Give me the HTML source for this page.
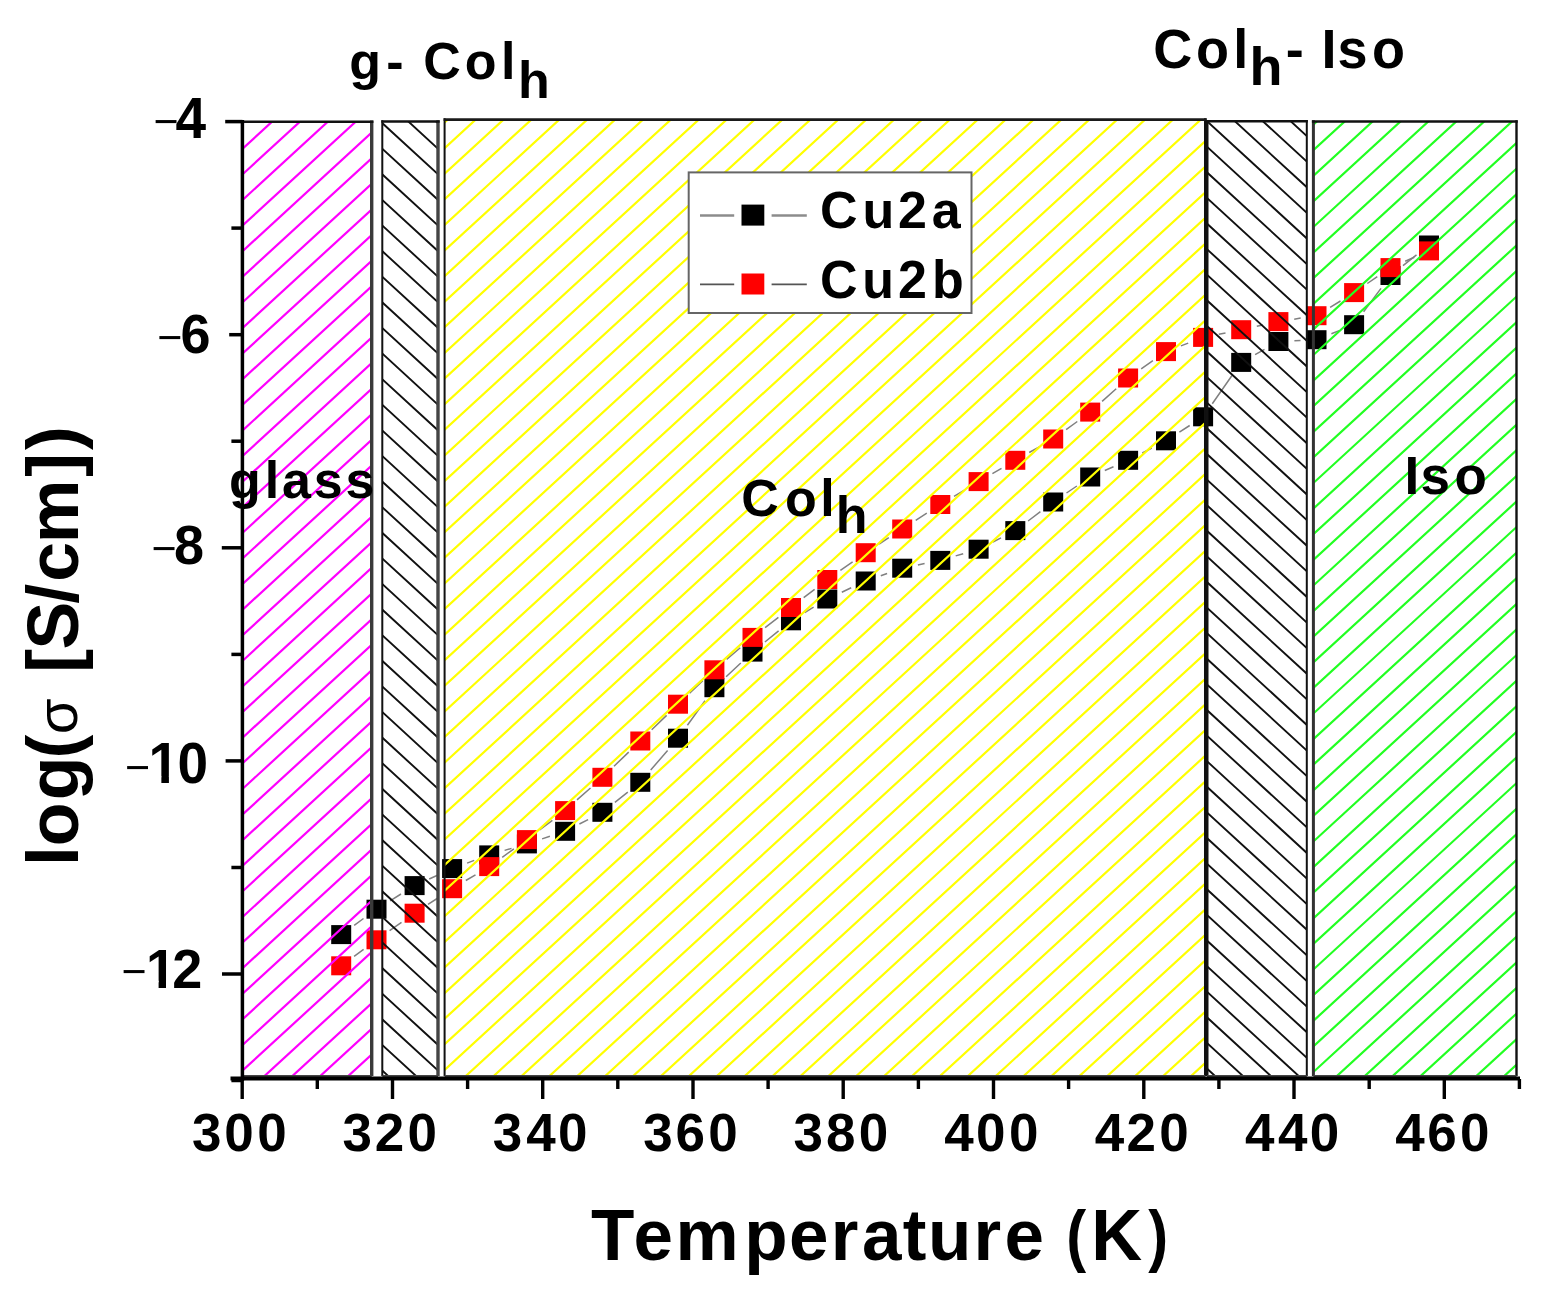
<!DOCTYPE html><html><head><meta charset="utf-8"><style>html,body{margin:0;padding:0;background:#fff;}svg{display:block}text{font-family:"Liberation Sans",Arial,sans-serif;fill:#000}</style></head><body>
<svg width="1544" height="1297" viewBox="0 0 1544 1297">
<defs>
<clipPath id="c0"><rect x="242.4" y="121.8" width="129.3" height="954.2"/></clipPath>
<clipPath id="c1"><rect x="382.3" y="121.5" width="55.7" height="954.5"/></clipPath>
<clipPath id="c2"><rect x="444.6" y="119.7" width="760.7" height="956.3"/></clipPath>
<clipPath id="c3"><rect x="1207.0" y="121.3" width="99.8" height="954.7"/></clipPath>
<clipPath id="c4"><rect x="1313.4" y="121.5" width="203.1" height="954.5"/></clipPath>
</defs>
<rect width="1544" height="1297" fill="#fff"/>
<path d="M354.2 925.3L363.5 918.5M390.1 900.8L401.0 894.0M429.2 879.0L437.5 875.2M467.1 863.1L474.2 860.4M504.6 850.4L511.5 848.4M542.1 838.9L549.9 836.3M579.4 824.0L588.1 819.6M614.9 802.4L627.8 792.2M650.7 770.1L667.6 750.4M687.4 725.2L705.0 700.7M726.1 676.8L740.8 663.0M764.9 642.0L778.6 630.9M804.7 612.6L813.6 607.2M841.8 592.2L851.2 587.8M880.8 575.7L887.1 573.5M917.9 565.0L924.6 563.6M955.7 555.9L963.2 553.7M992.9 542.0L1001.0 537.8M1028.1 521.0L1040.4 511.6M1066.5 493.0L1076.9 486.0M1104.8 470.5L1113.5 466.8M1142.3 453.0L1151.8 448.1M1179.4 432.1L1189.7 425.5M1212.3 403.7L1232.0 375.5M1255.1 354.6L1264.5 349.3M1294.4 340.7L1300.5 340.5M1331.4 333.8L1339.2 330.6M1363.6 311.8L1381.0 288.4M1403.0 265.6L1416.5 254.9" fill="none" stroke="#808080" stroke-width="1.5"/>
<path d="M354.1 956.3L363.6 949.3M389.6 930.6L401.5 922.4M428.0 904.4L438.7 897.5M465.8 880.5L475.5 874.8M502.2 857.3L513.9 848.9M539.6 829.9L552.4 820.3M577.0 799.9L590.5 788.0M614.0 766.2L628.7 752.1M651.7 729.8L666.6 715.4M689.6 693.2L702.8 680.8M726.6 659.4L740.3 647.8M765.1 627.6L778.4 617.3M803.7 597.7L814.6 589.3M840.4 570.3L852.6 561.9M879.1 544.0L888.8 537.7M915.7 520.3L926.8 513.2M954.0 496.3L964.9 489.8M992.4 473.6L1001.5 468.3M1029.2 452.5L1039.3 446.8M1066.1 429.6L1077.3 421.5M1102.1 401.4L1116.2 388.7M1141.2 368.9L1152.9 360.7M1180.9 345.9L1188.2 343.1M1218.8 334.2L1225.5 332.9M1256.8 326.3L1262.8 325.0M1294.2 319.2L1300.7 318.1M1330.1 307.3L1340.5 301.0M1367.3 283.5L1377.3 276.7M1405.2 261.2L1414.3 257.3" fill="none" stroke="#808080" stroke-width="1.5"/>
<rect x="331.2" y="925.1" width="20" height="19" fill="#000"/>
<rect x="366.5" y="899.7" width="20" height="19" fill="#000"/>
<rect x="404.6" y="876.1" width="20" height="19" fill="#000"/>
<rect x="442.1" y="859.1" width="20" height="19" fill="#000"/>
<rect x="479.2" y="845.4" width="20" height="19" fill="#000"/>
<rect x="516.9" y="834.4" width="20" height="19" fill="#000"/>
<rect x="555.1" y="821.8" width="20" height="19" fill="#000"/>
<rect x="592.4" y="802.8" width="20" height="19" fill="#000"/>
<rect x="630.3" y="772.8" width="20" height="19" fill="#000"/>
<rect x="668.0" y="728.7" width="20" height="19" fill="#000"/>
<rect x="704.4" y="678.2" width="20" height="19" fill="#000"/>
<rect x="742.5" y="642.6" width="20" height="19" fill="#000"/>
<rect x="781.0" y="611.3" width="20" height="19" fill="#000"/>
<rect x="817.3" y="589.5" width="20" height="19" fill="#000"/>
<rect x="855.7" y="571.5" width="20" height="19" fill="#000"/>
<rect x="892.2" y="558.7" width="20" height="19" fill="#000"/>
<rect x="930.3" y="550.9" width="20" height="19" fill="#000"/>
<rect x="968.6" y="539.7" width="20" height="19" fill="#000"/>
<rect x="1005.3" y="521.1" width="20" height="19" fill="#000"/>
<rect x="1043.2" y="492.5" width="20" height="19" fill="#000"/>
<rect x="1080.2" y="467.5" width="20" height="19" fill="#000"/>
<rect x="1118.1" y="450.8" width="20" height="19" fill="#000"/>
<rect x="1156.0" y="431.3" width="20" height="19" fill="#000"/>
<rect x="1193.1" y="407.3" width="20" height="19" fill="#000"/>
<rect x="1231.2" y="352.9" width="20" height="19" fill="#000"/>
<rect x="1268.4" y="332.0" width="20" height="19" fill="#000"/>
<rect x="1306.5" y="330.2" width="20" height="19" fill="#000"/>
<rect x="1344.1" y="315.2" width="20" height="19" fill="#000"/>
<rect x="1380.5" y="266.0" width="20" height="19" fill="#000"/>
<rect x="1419.0" y="235.5" width="20" height="19" fill="#000"/>
<rect x="331.2" y="956.3" width="20" height="19" fill="#ff0000"/>
<rect x="366.5" y="930.3" width="20" height="19" fill="#ff0000"/>
<rect x="404.6" y="903.7" width="20" height="19" fill="#ff0000"/>
<rect x="442.1" y="879.2" width="20" height="19" fill="#ff0000"/>
<rect x="479.2" y="857.1" width="20" height="19" fill="#ff0000"/>
<rect x="516.9" y="830.1" width="20" height="19" fill="#ff0000"/>
<rect x="555.1" y="801.1" width="20" height="19" fill="#ff0000"/>
<rect x="592.4" y="767.8" width="20" height="19" fill="#ff0000"/>
<rect x="630.3" y="731.5" width="20" height="19" fill="#ff0000"/>
<rect x="668.0" y="694.7" width="20" height="19" fill="#ff0000"/>
<rect x="704.4" y="660.3" width="20" height="19" fill="#ff0000"/>
<rect x="742.5" y="627.9" width="20" height="19" fill="#ff0000"/>
<rect x="781.0" y="598.0" width="20" height="19" fill="#ff0000"/>
<rect x="817.3" y="570.0" width="20" height="19" fill="#ff0000"/>
<rect x="855.7" y="543.2" width="20" height="19" fill="#ff0000"/>
<rect x="892.2" y="519.5" width="20" height="19" fill="#ff0000"/>
<rect x="930.3" y="495.0" width="20" height="19" fill="#ff0000"/>
<rect x="968.6" y="472.1" width="20" height="19" fill="#ff0000"/>
<rect x="1005.3" y="450.8" width="20" height="19" fill="#ff0000"/>
<rect x="1043.2" y="429.5" width="20" height="19" fill="#ff0000"/>
<rect x="1080.2" y="402.6" width="20" height="19" fill="#ff0000"/>
<rect x="1118.1" y="368.5" width="20" height="19" fill="#ff0000"/>
<rect x="1156.0" y="342.1" width="20" height="19" fill="#ff0000"/>
<rect x="1193.1" y="327.9" width="20" height="19" fill="#ff0000"/>
<rect x="1231.2" y="320.2" width="20" height="19" fill="#ff0000"/>
<rect x="1268.4" y="312.1" width="20" height="19" fill="#ff0000"/>
<rect x="1306.5" y="306.2" width="20" height="19" fill="#ff0000"/>
<rect x="1344.1" y="283.1" width="20" height="19" fill="#ff0000"/>
<rect x="1380.5" y="258.1" width="20" height="19" fill="#ff0000"/>
<rect x="1419.0" y="241.4" width="20" height="19" fill="#ff0000"/>
<path clip-path="url(#c0)" d="M237.4 76.7L376.7 -51.2M237.4 102.3L376.7 -25.6M237.4 127.9L376.7 0.0M237.4 153.5L376.7 25.6M237.4 179.1L376.7 51.2M237.4 204.7L376.7 76.8M237.4 230.3L376.7 102.4M237.4 255.9L376.7 128.0M237.4 281.5L376.7 153.6M237.4 307.1L376.7 179.2M237.4 332.7L376.7 204.9M237.4 358.3L376.7 230.5M237.4 383.9L376.7 256.1M237.4 409.5L376.7 281.7M237.4 435.2L376.7 307.3M237.4 460.8L376.7 332.9M237.4 486.4L376.7 358.5M237.4 512.0L376.7 384.1M237.4 537.6L376.7 409.7M237.4 563.2L376.7 435.3M237.4 588.8L376.7 460.9M237.4 614.4L376.7 486.5M237.4 640.0L376.7 512.1M237.4 665.6L376.7 537.7M237.4 691.2L376.7 563.3M237.4 716.8L376.7 588.9M237.4 742.4L376.7 614.6M237.4 768.0L376.7 640.2M237.4 793.6L376.7 665.8M237.4 819.2L376.7 691.4M237.4 844.9L376.7 717.0M237.4 870.5L376.7 742.6M237.4 896.1L376.7 768.2M237.4 921.7L376.7 793.8M237.4 947.3L376.7 819.4M237.4 972.9L376.7 845.0M237.4 998.5L376.7 870.6M237.4 1024.1L376.7 896.2M237.4 1049.7L376.7 921.8M237.4 1075.3L376.7 947.4M237.4 1100.9L376.7 973.0M237.4 1126.5L376.7 998.6M237.4 1152.1L376.7 1024.2M237.4 1177.7L376.7 1049.9M237.4 1203.3L376.7 1075.5M237.4 1228.9L376.7 1101.1" stroke="#ff00ff" stroke-width="2.2" fill="none"/>
<path clip-path="url(#c1)" d="M377.3 16.2L443.0 76.5M377.3 41.8L443.0 102.1M377.3 67.4L443.0 127.7M377.3 93.0L443.0 153.3M377.3 118.6L443.0 178.9M377.3 144.2L443.0 204.5M377.3 169.8L443.0 230.1M377.3 195.4L443.0 255.7M377.3 221.0L443.0 281.3M377.3 246.6L443.0 306.9M377.3 272.2L443.0 332.5M377.3 297.8L443.0 358.1M377.3 323.4L443.0 383.7M377.3 349.0L443.0 409.4M377.3 374.6L443.0 435.0M377.3 400.2L443.0 460.6M377.3 425.9L443.0 486.2M377.3 451.5L443.0 511.8M377.3 477.1L443.0 537.4M377.3 502.7L443.0 563.0M377.3 528.3L443.0 588.6M377.3 553.9L443.0 614.2M377.3 579.5L443.0 639.8M377.3 605.1L443.0 665.4M377.3 630.7L443.0 691.0M377.3 656.3L443.0 716.6M377.3 681.9L443.0 742.2M377.3 707.5L443.0 767.8M377.3 733.1L443.0 793.4M377.3 758.7L443.0 819.0M377.3 784.3L443.0 844.7M377.3 809.9L443.0 870.3M377.3 835.6L443.0 895.9M377.3 861.2L443.0 921.5M377.3 886.8L443.0 947.1M377.3 912.4L443.0 972.7M377.3 938.0L443.0 998.3M377.3 963.6L443.0 1023.9M377.3 989.2L443.0 1049.5M377.3 1014.8L443.0 1075.1M377.3 1040.4L443.0 1100.7M377.3 1066.0L443.0 1126.3M377.3 1091.6L443.0 1151.9M377.3 1117.2L443.0 1177.5" stroke="#111" stroke-width="1.9" fill="none"/>
<path clip-path="url(#c2)" d="M439.6 75.9L1210.3 -631.6M439.6 101.5L1210.3 -606.0M439.6 127.1L1210.3 -580.4M439.6 152.7L1210.3 -554.8M439.6 178.3L1210.3 -529.2M439.6 203.9L1210.3 -503.6M439.6 229.5L1210.3 -478.0M439.6 255.1L1210.3 -452.4M439.6 280.7L1210.3 -426.8M439.6 306.3L1210.3 -401.2M439.6 331.9L1210.3 -375.6M439.6 357.5L1210.3 -350.0M439.6 383.1L1210.3 -324.4M439.6 408.7L1210.3 -298.8M439.6 434.3L1210.3 -273.2M439.6 460.0L1210.3 -247.5M439.6 485.6L1210.3 -221.9M439.6 511.2L1210.3 -196.3M439.6 536.8L1210.3 -170.7M439.6 562.4L1210.3 -145.1M439.6 588.0L1210.3 -119.5M439.6 613.6L1210.3 -93.9M439.6 639.2L1210.3 -68.3M439.6 664.8L1210.3 -42.7M439.6 690.4L1210.3 -17.1M439.6 716.0L1210.3 8.5M439.6 741.6L1210.3 34.1M439.6 767.2L1210.3 59.7M439.6 792.8L1210.3 85.3M439.6 818.4L1210.3 110.9M439.6 844.0L1210.3 136.5M439.6 869.6L1210.3 162.1M439.6 895.3L1210.3 187.8M439.6 920.9L1210.3 213.4M439.6 946.5L1210.3 239.0M439.6 972.1L1210.3 264.6M439.6 997.7L1210.3 290.2M439.6 1023.3L1210.3 315.8M439.6 1048.9L1210.3 341.4M439.6 1074.5L1210.3 367.0M439.6 1100.1L1210.3 392.6M439.6 1125.7L1210.3 418.2M439.6 1151.3L1210.3 443.8M439.6 1176.9L1210.3 469.4M439.6 1202.5L1210.3 495.0M439.6 1228.1L1210.3 520.6M439.6 1253.7L1210.3 546.2M439.6 1279.3L1210.3 571.8M439.6 1305.0L1210.3 597.4M439.6 1330.6L1210.3 623.1M439.6 1356.2L1210.3 648.7M439.6 1381.8L1210.3 674.3M439.6 1407.4L1210.3 699.9M439.6 1433.0L1210.3 725.5M439.6 1458.6L1210.3 751.1M439.6 1484.2L1210.3 776.7M439.6 1509.8L1210.3 802.3M439.6 1535.4L1210.3 827.9M439.6 1561.0L1210.3 853.5M439.6 1586.6L1210.3 879.1M439.6 1612.2L1210.3 904.7M439.6 1637.8L1210.3 930.3M439.6 1663.4L1210.3 955.9M439.6 1689.0L1210.3 981.5M439.6 1714.6L1210.3 1007.1M439.6 1740.3L1210.3 1032.8M439.6 1765.9L1210.3 1058.4M439.6 1791.5L1210.3 1084.0M439.6 1817.1L1210.3 1109.6" stroke="#ffff00" stroke-width="2.2" fill="none"/>
<path clip-path="url(#c3)" d="M1202.0 -11.5L1311.8 89.3M1202.0 14.2L1311.8 114.9M1202.0 39.8L1311.8 140.6M1202.0 65.4L1311.8 166.2M1202.0 91.0L1311.8 191.8M1202.0 116.6L1311.8 217.4M1202.0 142.2L1311.8 243.0M1202.0 167.8L1311.8 268.6M1202.0 193.4L1311.8 294.2M1202.0 219.0L1311.8 319.8M1202.0 244.6L1311.8 345.4M1202.0 270.2L1311.8 371.0M1202.0 295.8L1311.8 396.6M1202.0 321.4L1311.8 422.2M1202.0 347.0L1311.8 447.8M1202.0 372.6L1311.8 473.4M1202.0 398.2L1311.8 499.0M1202.0 423.8L1311.8 524.6M1202.0 449.5L1311.8 550.3M1202.0 475.1L1311.8 575.9M1202.0 500.7L1311.8 601.5M1202.0 526.3L1311.8 627.1M1202.0 551.9L1311.8 652.7M1202.0 577.5L1311.8 678.3M1202.0 603.1L1311.8 703.9M1202.0 628.7L1311.8 729.5M1202.0 654.3L1311.8 755.1M1202.0 679.9L1311.8 780.7M1202.0 705.5L1311.8 806.3M1202.0 731.1L1311.8 831.9M1202.0 756.7L1311.8 857.5M1202.0 782.3L1311.8 883.1M1202.0 807.9L1311.8 908.7M1202.0 833.5L1311.8 934.3M1202.0 859.2L1311.8 959.9M1202.0 884.8L1311.8 985.6M1202.0 910.4L1311.8 1011.2M1202.0 936.0L1311.8 1036.8M1202.0 961.6L1311.8 1062.4M1202.0 987.2L1311.8 1088.0M1202.0 1012.8L1311.8 1113.6M1202.0 1038.4L1311.8 1139.2M1202.0 1064.0L1311.8 1164.8M1202.0 1089.6L1311.8 1190.4M1202.0 1115.2L1311.8 1216.0" stroke="#111" stroke-width="1.9" fill="none"/>
<path clip-path="url(#c4)" d="M1308.4 77.9L1521.5 -117.7M1308.4 103.5L1521.5 -92.1M1308.4 129.2L1521.5 -66.5M1308.4 154.8L1521.5 -40.9M1308.4 180.4L1521.5 -15.3M1308.4 206.0L1521.5 10.3M1308.4 231.6L1521.5 35.9M1308.4 257.2L1521.5 61.6M1308.4 282.8L1521.5 87.2M1308.4 308.4L1521.5 112.8M1308.4 334.0L1521.5 138.4M1308.4 359.6L1521.5 164.0M1308.4 385.2L1521.5 189.6M1308.4 410.8L1521.5 215.2M1308.4 436.4L1521.5 240.8M1308.4 462.0L1521.5 266.4M1308.4 487.6L1521.5 292.0M1308.4 513.2L1521.5 317.6M1308.4 538.8L1521.5 343.2M1308.4 564.5L1521.5 368.8M1308.4 590.1L1521.5 394.4M1308.4 615.7L1521.5 420.0M1308.4 641.3L1521.5 445.6M1308.4 666.9L1521.5 471.3M1308.4 692.5L1521.5 496.9M1308.4 718.1L1521.5 522.5M1308.4 743.7L1521.5 548.1M1308.4 769.3L1521.5 573.7M1308.4 794.9L1521.5 599.3M1308.4 820.5L1521.5 624.9M1308.4 846.1L1521.5 650.5M1308.4 871.7L1521.5 676.1M1308.4 897.3L1521.5 701.7M1308.4 922.9L1521.5 727.3M1308.4 948.5L1521.5 752.9M1308.4 974.1L1521.5 778.5M1308.4 999.8L1521.5 804.1M1308.4 1025.4L1521.5 829.7M1308.4 1051.0L1521.5 855.3M1308.4 1076.6L1521.5 880.9M1308.4 1102.2L1521.5 906.6M1308.4 1127.8L1521.5 932.2M1308.4 1153.4L1521.5 957.8M1308.4 1179.0L1521.5 983.4M1308.4 1204.6L1521.5 1009.0M1308.4 1230.2L1521.5 1034.6M1308.4 1255.8L1521.5 1060.2M1308.4 1281.4L1521.5 1085.8M1308.4 1307.0L1521.5 1111.4" stroke="#22ff22" stroke-width="2.2" fill="none"/>
<line x1="242.4" y1="120.5" x2="242.4" y2="1076.0" stroke="#111" stroke-width="2.6"/>
<line x1="371.7" y1="120.5" x2="371.7" y2="1076.0" stroke="#3a3a3a" stroke-width="3.4"/>
<line x1="241.1" y1="121.8" x2="373.4" y2="121.8" stroke="#111" stroke-width="2.6"/>
<line x1="242.4" y1="1076.0" x2="371.7" y2="1076.0" stroke="#444" stroke-width="2.2"/>
<line x1="382.3" y1="120.2" x2="382.3" y2="1076.0" stroke="#111" stroke-width="2.0"/>
<line x1="438.0" y1="120.2" x2="438.0" y2="1076.0" stroke="#444" stroke-width="3.4"/>
<line x1="381.3" y1="121.5" x2="439.7" y2="121.5" stroke="#111" stroke-width="2.6"/>
<line x1="382.3" y1="1076.0" x2="438.0" y2="1076.0" stroke="#444" stroke-width="2.2"/>
<line x1="444.6" y1="118.3" x2="444.6" y2="1076.0" stroke="#111" stroke-width="2.0"/>
<line x1="1205.3" y1="118.3" x2="1205.3" y2="1076.0" stroke="#111" stroke-width="2.6"/>
<line x1="443.6" y1="119.7" x2="1206.6" y2="119.7" stroke="#1a1a1a" stroke-width="2.8"/>
<line x1="444.6" y1="1076.0" x2="1205.3" y2="1076.0" stroke="#444" stroke-width="2.2"/>
<line x1="1207.0" y1="120.0" x2="1207.0" y2="1076.0" stroke="#111" stroke-width="3.0"/>
<line x1="1306.8" y1="120.0" x2="1306.8" y2="1076.0" stroke="#111" stroke-width="2.0"/>
<line x1="1205.5" y1="121.3" x2="1307.8" y2="121.3" stroke="#111" stroke-width="2.6"/>
<line x1="1207.0" y1="1076.0" x2="1306.8" y2="1076.0" stroke="#444" stroke-width="2.2"/>
<line x1="1313.4" y1="120.3" x2="1313.4" y2="1076.0" stroke="#333" stroke-width="3.0"/>
<line x1="1516.5" y1="120.3" x2="1516.5" y2="1076.0" stroke="#111" stroke-width="2.4"/>
<line x1="1311.9" y1="121.5" x2="1517.7" y2="121.5" stroke="#111" stroke-width="2.4"/>
<line x1="1313.4" y1="1076.0" x2="1516.5" y2="1076.0" stroke="#444" stroke-width="2.2"/>
<text x="229.07 264.87 281.98 313.87 345.47" y="498.20" font-size="52" font-weight="bold">glass</text>
<text font-size="52" font-weight="bold" y="516.30"><tspan x="741.17 784.97 820.17" y="516.30" font-size="52" font-weight="bold">Col</tspan><tspan x="835.87" y="533.40" font-size="52" font-weight="bold">h</tspan></text>
<text x="1404.45 1420.44 1454.43" y="494.40" font-size="53" font-weight="bold">Iso</text>
<rect x="688.7" y="172.4" width="282.8" height="140.6" fill="#fff" stroke="#666" stroke-width="2"/>
<line x1="700" y1="215.5" x2="734.2" y2="215.5" stroke="#8c8c8c" stroke-width="2.4"/>
<line x1="771.6" y1="215.5" x2="806.8" y2="215.5" stroke="#8c8c8c" stroke-width="2.4"/>
<rect x="741.5" y="204.6" width="22.8" height="21" fill="#000"/>
<line x1="700" y1="284.4" x2="734.2" y2="284.4" stroke="#555" stroke-width="1.6"/>
<line x1="771.6" y1="284.4" x2="806.8" y2="284.4" stroke="#555" stroke-width="1.6"/>
<rect x="741.5" y="273.5" width="22.8" height="21" fill="#ff0000"/>
<text x="819.97 862.38 897.90 931.78" y="228.20" font-size="52" font-weight="bold">Cu2a</text>
<text transform="translate(0 297.80) scale(1.0 1.02)" x="819.97 862.38 897.90 932.07" y="0" font-size="52" font-weight="bold">Cu2b</text>
<g stroke="#000" stroke-width="3.5" fill="none">
<line x1="242.4" y1="120" x2="242.4" y2="1081"/>
<line x1="230.5" y1="1078.6" x2="1520" y2="1078.6" stroke-width="4"/>
<line x1="225.2" y1="121.6" x2="242.4" y2="121.6"/>
<line x1="231.4" y1="228.1" x2="242.4" y2="228.1"/>
<line x1="229.2" y1="334.7" x2="242.4" y2="334.7"/>
<line x1="231.4" y1="441.2" x2="242.4" y2="441.2"/>
<line x1="221.8" y1="547.8" x2="242.4" y2="547.8"/>
<line x1="231.4" y1="654.4" x2="242.4" y2="654.4"/>
<line x1="225.6" y1="760.9" x2="242.4" y2="760.9"/>
<line x1="231.4" y1="867.5" x2="242.4" y2="867.5"/>
<line x1="222.0" y1="974.0" x2="242.4" y2="974.0"/>
<line x1="231.4" y1="1080.5" x2="242.4" y2="1080.5"/>
<line x1="242.2" y1="1079" x2="242.2" y2="1099.0" stroke-width="3.4"/>
<line x1="317.3" y1="1079" x2="317.3" y2="1089.0" stroke-width="3.4"/>
<line x1="392.5" y1="1079" x2="392.5" y2="1099.0" stroke-width="3.4"/>
<line x1="467.6" y1="1079" x2="467.6" y2="1089.0" stroke-width="3.4"/>
<line x1="542.7" y1="1079" x2="542.7" y2="1099.0" stroke-width="3.4"/>
<line x1="617.8" y1="1079" x2="617.8" y2="1089.0" stroke-width="3.4"/>
<line x1="693.0" y1="1079" x2="693.0" y2="1099.0" stroke-width="3.4"/>
<line x1="768.1" y1="1079" x2="768.1" y2="1089.0" stroke-width="3.4"/>
<line x1="843.2" y1="1079" x2="843.2" y2="1099.0" stroke-width="3.4"/>
<line x1="918.4" y1="1079" x2="918.4" y2="1089.0" stroke-width="3.4"/>
<line x1="993.5" y1="1079" x2="993.5" y2="1099.0" stroke-width="3.4"/>
<line x1="1068.6" y1="1079" x2="1068.6" y2="1089.0" stroke-width="3.4"/>
<line x1="1143.8" y1="1079" x2="1143.8" y2="1099.0" stroke-width="3.4"/>
<line x1="1218.9" y1="1079" x2="1218.9" y2="1089.0" stroke-width="3.4"/>
<line x1="1294.0" y1="1079" x2="1294.0" y2="1099.0" stroke-width="3.4"/>
<line x1="1369.2" y1="1079" x2="1369.2" y2="1089.0" stroke-width="3.4"/>
<line x1="1444.3" y1="1079" x2="1444.3" y2="1099.0" stroke-width="3.4"/>
<line x1="1519.4" y1="1079" x2="1519.4" y2="1089.0" stroke-width="3.4"/>
</g>
<text font-size="52" font-weight="bold" y="79.40"><tspan x="349.27 386.37 403.69 423.37 464.77 500.97" y="79.40" font-size="52" font-weight="bold">g- Col</tspan><tspan x="518.07" y="98.40" font-size="52" font-weight="bold">h</tspan></text>
<text transform="translate(0 67.80) scale(1.0 1.03)" x="1153.19 1195.89 1233.23" y="0" font-size="54" font-weight="bold">Col</text>
<text x="1249.53" y="85.30" font-size="54" font-weight="bold">h</text>
<text x="1285.69" y="67.80" font-size="54" font-weight="bold">-</text>
<text transform="translate(0 67.80) scale(1.0 1.04)" x="1321.39 1337.60 1371.89" y="0" font-size="54" font-weight="bold">Iso</text>
<text transform="translate(0 1150.50) scale(1.0 1.02)" x="192.13 224.25 257.25" y="0" font-size="53" font-weight="bold">300</text>
<text transform="translate(0 1150.50) scale(1.0 1.02)" x="342.48 374.86 407.60" y="0" font-size="53" font-weight="bold">320</text>
<text transform="translate(0 1150.50) scale(1.0 1.02)" x="492.83 526.25 557.95" y="0" font-size="53" font-weight="bold">340</text>
<text transform="translate(0 1150.50) scale(1.0 1.02)" x="643.18 675.46 708.30" y="0" font-size="53" font-weight="bold">360</text>
<text transform="translate(0 1150.50) scale(1.0 1.02)" x="793.53 826.07 858.65" y="0" font-size="53" font-weight="bold">380</text>
<text transform="translate(0 1150.50) scale(1.0 1.02)" x="944.30 976.00 1009.00" y="0" font-size="53" font-weight="bold">400</text>
<text transform="translate(0 1150.50) scale(1.0 1.02)" x="1094.65 1126.61 1159.35" y="0" font-size="53" font-weight="bold">420</text>
<text transform="translate(0 1150.50) scale(1.0 1.02)" x="1245.00 1278.00 1309.70" y="0" font-size="53" font-weight="bold">440</text>
<text transform="translate(0 1150.50) scale(1.0 1.02)" x="1395.35 1427.21 1460.05" y="0" font-size="53" font-weight="bold">460</text>
<text transform="translate(0 138.40) scale(1.0 1.05)" x="175.47" y="0" font-size="55" font-weight="bold">4</text>
<text x="153.58" y="136.30" font-size="43" font-weight="normal">−</text>
<text transform="translate(0 352.50) scale(1.0 1.03)" x="180.52" y="0" font-size="54" font-weight="bold">6</text>
<text x="157.28" y="352.20" font-size="43" font-weight="normal">−</text>
<text transform="translate(0 564.40) scale(1.0 1.03)" x="173.99" y="0" font-size="54" font-weight="bold">8</text>
<text x="151.38" y="563.30" font-size="43" font-weight="normal">−</text>
<clipPath id="cl1_1"><rect x="143.54" y="703.20" width="55.00" height="73.02"/><rect x="161.37" y="775.42" width="7.55" height="8.61"/></clipPath><g clip-path="url(#cl1_1)"><text transform="translate(0 783.20) scale(1.0 1.03)" x="148.54" y="0" font-size="55" font-weight="bold">1</text></g>
<text transform="translate(0 783.20) scale(1.0 1.03)" x="177.52" y="0" font-size="55" font-weight="bold">0</text>
<text x="125.08" y="781.70" font-size="43" font-weight="normal">−</text>
<clipPath id="cl1_2"><rect x="141.00" y="907.70" width="54.00" height="73.12"/><rect x="158.60" y="980.02" width="7.41" height="8.51"/></clipPath><g clip-path="url(#cl1_2)"><text transform="translate(0 987.70) scale(1.0 1.03)" x="146.00" y="0" font-size="54" font-weight="bold">1</text></g>
<text transform="translate(0 987.70) scale(1.0 1.03)" x="172.23" y="0" font-size="54" font-weight="bold">2</text>
<text x="121.48" y="985.90" font-size="43" font-weight="normal">−</text>
<text transform="translate(0 1260.20) scale(1.0 1.03)" x="590.90 633.53 675.42 744.32 789.03 830.82 862.02 902.63 928.10 973.42 1004.43" y="0" font-size="71" font-weight="bold">Temperature</text>
<text transform="translate(0 1260.00) scale(1.0 1.035)" x="1091.28" y="0" font-size="70.5" font-weight="bold">K</text>
<text transform="translate(0 1259.40) scale(0.92 1.05)" x="1159.05" y="0" font-size="65" font-weight="bold">(</text>
<text transform="translate(0 1259.40) scale(0.92 1.05)" x="1247.98" y="0" font-size="65" font-weight="bold">)</text>
<text font-size="71.7" font-weight="bold" y="77.60" transform="rotate(-90)"><tspan x="-865.91 -846.30 -800.24 -758.47" y="77.60" font-size="71.7" font-weight="bold">log(</tspan><tspan x="-734.24" y="76.60" font-size="58" font-weight="normal">σ</tspan><tspan x="-692.55 -672.63 -649.47 -603.80 -581.80 -543.23 -476.78 -449.97" y="77.60" font-size="71.7" font-weight="bold"> [S/cm])</tspan></text>
</svg></body></html>
